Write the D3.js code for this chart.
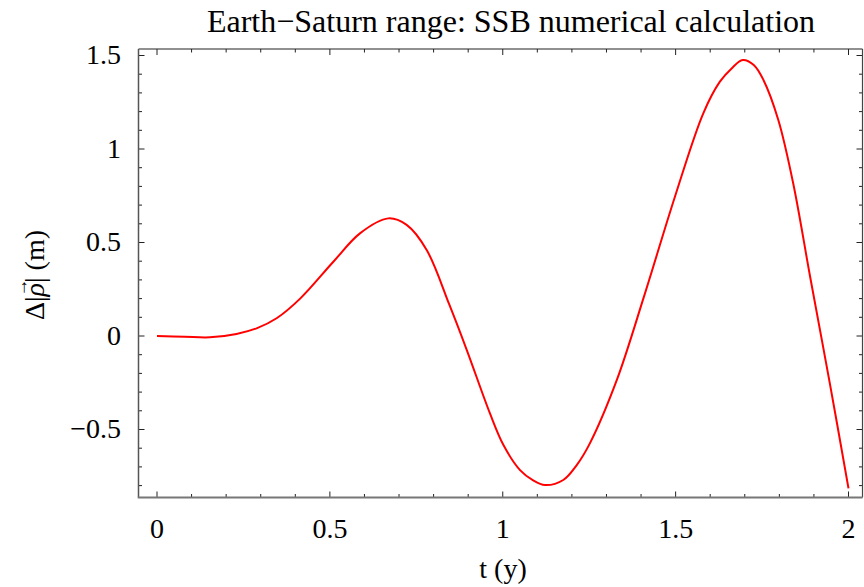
<!DOCTYPE html>
<html>
<head>
<meta charset="utf-8">
<script src="https://cdn.jsdelivr.net/npm/d3@7"></script>
<style>
html,body{margin:0;padding:0;background:#fff;}
svg text{font-family:"Liberation Serif","Times New Roman",serif;fill:#000;}
</style>
</head>
<body>
<svg id="chart" width="864" height="587"></svg>
<script>
const titleText = "Earth\u2212Saturn range: SSB numerical calculation";
const xLabelText = "t (y)";
const tValues = [0, 0.08, 0.153, 0.23, 0.288, 0.346, 0.414, 0.51, 0.587, 0.669, 0.722, 0.78, 0.845, 0.896, 0.963, 1.002, 1.05, 1.088, 1.122, 1.175, 1.214, 1.252, 1.33, 1.41, 1.498, 1.58, 1.628, 1.662, 1.694, 1.726, 1.754, 1.797, 1.84, 1.889, 1.946, 2.0];
const rhoValues = [0, -0.004, -0.007, 0.011, 0.041, 0.095, 0.2, 0.397, 0.549, 0.629, 0.594, 0.46, 0.17, -0.075, -0.414, -0.583, -0.717, -0.772, -0.797, -0.77, -0.69, -0.574, -0.235, 0.22, 0.745, 1.191, 1.36, 1.431, 1.476, 1.449, 1.369, 1.155, 0.817, 0.317, -0.253, -0.815];
const xTickValues = [0, 0.5, 1, 1.5, 2];
const xTickLabels = ["0", "0.5", "1", "1.5", "2"];
const yTickValues = [-0.5, 0, 0.5, 1, 1.5];
const yTickLabels = ["\u22120.5", "0", "0.5", "1", "1.5"];

const svg = d3.select("#chart");
const frame = {left: 138.5, right: 862.5, top: 49, bottom: 497.5};

const x = d3.scaleLinear().domain([0, 2]).range([157, 848.5]);
const y = d3.scaleLinear().domain([0, 1.5]).range([336, 55.5]);
const xDom = [x.invert(frame.left), x.invert(frame.right)];
const yDom = [y.invert(frame.bottom), y.invert(frame.top)];

const xMinor = d3.range(0, 2.0001, 0.1).map(v => +v.toFixed(2)).filter(v => v >= xDom[0] && v <= xDom[1]);
const yMinor = d3.range(-0.8, 1.5001, 0.1).map(v => +v.toFixed(2)).filter(v => v >= yDom[0] && v <= yDom[1]);
const isMajor = v => Math.abs(v * 2 - Math.round(v * 2)) < 1e-6;

const g = svg.append("g");
const majorLen = 6, minorLen = 3.5;

xMinor.forEach(v => {
  const L = isMajor(v) ? majorLen : minorLen;
  g.append("line").attr("x1", x(v)).attr("x2", x(v)).attr("y1", frame.bottom).attr("y2", frame.bottom - L)
    .attr("stroke", "#222").attr("stroke-width", 1);
  g.append("line").attr("x1", x(v)).attr("x2", x(v)).attr("y1", frame.top).attr("y2", frame.top + L)
    .attr("stroke", "#222").attr("stroke-width", 1);
});
yMinor.forEach(v => {
  const L = isMajor(v) ? majorLen : minorLen;
  g.append("line").attr("x1", frame.left).attr("x2", frame.left + L).attr("y1", y(v)).attr("y2", y(v))
    .attr("stroke", "#222").attr("stroke-width", 1);
  g.append("line").attr("x1", frame.right).attr("x2", frame.right - L).attr("y1", y(v)).attr("y2", y(v))
    .attr("stroke", "#222").attr("stroke-width", 1);
});

g.append("line").attr("x1", frame.left).attr("x2", frame.right).attr("y1", frame.top).attr("y2", frame.top)
  .attr("stroke", "#222").attr("stroke-width", 1.2);
g.append("line").attr("x1", frame.right).attr("x2", frame.right).attr("y1", frame.top).attr("y2", frame.bottom)
  .attr("stroke", "#444").attr("stroke-width", 1.2);
g.append("line").attr("x1", frame.left).attr("x2", frame.left).attr("y1", frame.top).attr("y2", frame.bottom)
  .attr("stroke", "#555").attr("stroke-width", 1.5);
g.append("line").attr("x1", frame.left - 0.75).attr("x2", frame.right).attr("y1", frame.bottom).attr("y2", frame.bottom)
  .attr("stroke", "#777").attr("stroke-width", 1.8);

xTickValues.forEach((v, i) => {
  g.append("text").attr("x", x(v)).attr("y", 538).attr("text-anchor", "middle")
    .attr("font-size", 28).text(xTickLabels[i]);
});
yTickValues.forEach((v, i) => {
  g.append("text").attr("x", 121).attr("y", y(v) + 8.5).attr("text-anchor", "end")
    .attr("font-size", 28).text(yTickLabels[i]);
});

const line = d3.line().x(d => x(d[0])).y(d => y(d[1])).curve(d3.curveCatmullRom.alpha(0.5));
g.append("path").datum(tValues.map((t, i) => [t, rhoValues[i]]))
  .attr("d", line).attr("fill", "none").attr("stroke", "#ff0000").attr("stroke-width", 2);

svg.append("text").attr("x", 511).attr("y", 32).attr("text-anchor", "middle")
  .attr("font-size", 32).text(titleText);

svg.append("text").attr("x", 503).attr("y", 578).attr("text-anchor", "middle")
  .attr("font-size", 28).text(xLabelText);

const ylg = svg.append("g").attr("transform", "translate(44,275) rotate(-90)");
const yl = ylg.append("text").attr("text-anchor", "middle").attr("font-size", 28);
yl.append("tspan").text("\u0394|");
yl.append("tspan").attr("font-style", "italic").text("\u03C1");
yl.append("tspan").text("| (m)");
const node = yl.node();
const total = node.getComputedTextLength();
const pre = node.getSubStringLength(0, 2);
const rhoW = node.getSubStringLength(2, 1);
const cx = -total / 2 + pre + rhoW / 2 + 2;
ylg.append("text").attr("x", cx).attr("y", -17).attr("text-anchor", "middle")
  .attr("font-size", 18).text("\u2192");
</script>
</body>
</html>
